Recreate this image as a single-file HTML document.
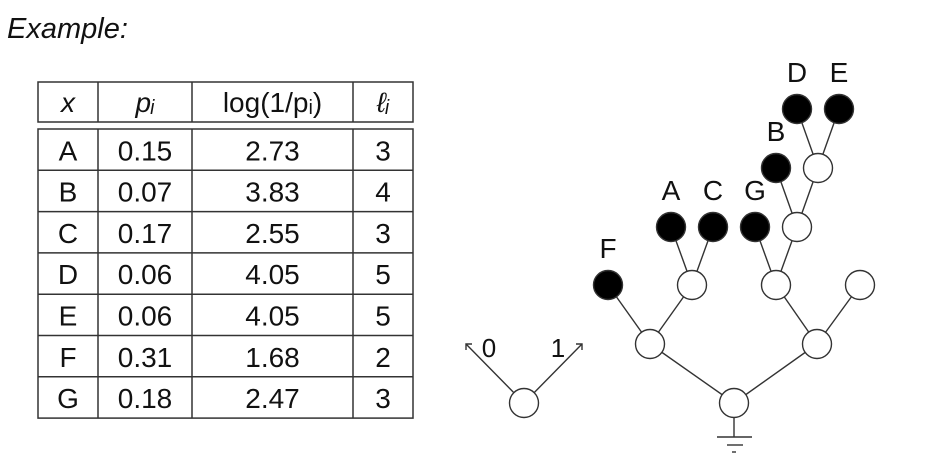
<!DOCTYPE html>
<html><head><meta charset="utf-8"><style>
html,body{margin:0;padding:0;background:#fff;}
svg{display:block;font-family:"Liberation Sans",sans-serif;}
</style></head><body>
<svg width="932" height="467" viewBox="0 0 932 467">
<text x="7" y="38" font-size="29" font-style="italic" fill="#111">Example:</text>
<g id="table" stroke="#333" stroke-width="1.5" fill="none"></g>
<g id="tree"></g>
</svg>
<script>
const headers=["x","pᵢ","log(1/pᵢ)","ℓᵢ"];
const symbols=["A","B","C","D","E","F","G"];
const probs=["0.15","0.07","0.17","0.06","0.06","0.31","0.18"];
const logs=["2.73","3.83","2.55","4.05","4.05","1.68","2.47"];
const lens=["3","4","3","5","5","2","3"];
const NS="http://www.w3.org/2000/svg";
function mk(tag,attrs,parent){const e=document.createElementNS(NS,tag);for(const k in attrs)e.setAttribute(k,attrs[k]);parent.appendChild(e);return e;}
const tb=document.getElementById('table');
const cols=[38,98,192,353,413];
const hTop=82,hBot=122,bTop=129,rowH=41.3;
const bBot=bTop+rowH*symbols.length;
let r=mk('rect',{x:38,y:hTop,width:375,height:hBot-hTop},tb);


r=mk('rect',{x:38,y:bTop,width:375,height:bBot-bTop},tb);


for(let i=1;i<4;i++){mk('line',{x1:cols[i],y1:hTop,x2:cols[i],y2:hBot},tb);mk('line',{x1:cols[i],y1:bTop,x2:cols[i],y2:bBot},tb);}
for(let i=1;i<symbols.length;i++){mk('line',{x1:38,y1:bTop+rowH*i,x2:413,y2:bTop+rowH*i},tb);}
function txt(s,x,y,parent,name,italic){const t=mk('text',{x:x,y:y,'font-size':28,'text-anchor':'middle',fill:'#111',stroke:'none'},parent);if(italic)t.setAttribute('font-style','italic');t.textContent=s;


return t;}
headers.forEach((h,i)=>txt(h,(cols[i]+cols[i+1])/2,hBot-10,tb,'header-'+i,i!==2));
symbols.forEach((s,i)=>{const y=bTop+rowH*(i+1)-10;
txt(s,(cols[0]+cols[1])/2,y,tb,'symbol-'+s);
txt(probs[i],(cols[1]+cols[2])/2,y,tb,'prob-'+s);
txt(logs[i],(cols[2]+cols[3])/2,y,tb,'log-'+s);
txt(lens[i],(cols[3]+cols[4])/2,y,tb,'len-'+s);});

const tr=document.getElementById('tree');
const nodes={sr:[524,403,0],root:[734,403,0],L1:[650,344,0],R1:[817,344,0],F:[608,285,1],L2:[692,285,0],R2a:[776,285,0],R2b:[860,285,0],A:[671,227,1],C:[713,227,1],G:[755,227,1],N3:[797,227,0],B:[776,168,1],N4:[818,168,0],D:[797,109,1],E:[839,109,1]};
const edges=[["root","L1"],["root","R1"],["L1","F"],["L1","L2"],["R1","R2a"],["R1","R2b"],["L2","A"],["L2","C"],["R2a","G"],["R2a","N3"],["N3","B"],["N3","N4"],["N4","D"],["N4","E"]];
const g=mk('g',{stroke:'#333','stroke-width':1.4},tr);
edges.forEach(([a,b])=>{const l=mk('line',{x1:nodes[a][0],y1:nodes[a][1],x2:nodes[b][0],y2:nodes[b][1]},g);

});
mk('line',{x1:524,y1:403,x2:466,y2:344},g);mk('line',{x1:524,y1:403,x2:582,y2:344},g);
mk('polyline',{points:'466,350 466,344 472,344',fill:'none'},g);
mk('polyline',{points:'576,344 582,344 582,350',fill:'none'},g);
mk('line',{x1:734,y1:418,x2:734,y2:437},g);mk('line',{x1:717,y1:437,x2:752,y2:437},g);mk('line',{x1:727,y1:445,x2:743,y2:445},g);mk('line',{x1:732,y1:452,x2:736,y2:452},g);
for(const k in nodes){const n=nodes[k];const c=mk('circle',{cx:n[0],cy:n[1],r:14.5,fill:n[2]?'#000':'#fff',stroke:'#333','stroke-width':1.4},tr);


if(n[2]){const t=mk('text',{x:n[0],y:n[1]-27,'font-size':28,'text-anchor':'middle',fill:'#111'},tr);t.textContent=k;

}}
let t=mk('text',{x:489,y:357,'font-size':26,'text-anchor':'middle',fill:'#111'},tr);t.textContent='0';


t=mk('text',{x:558,y:357,'font-size':26,'text-anchor':'middle',fill:'#111'},tr);t.textContent='1';


</script>
</body></html>
